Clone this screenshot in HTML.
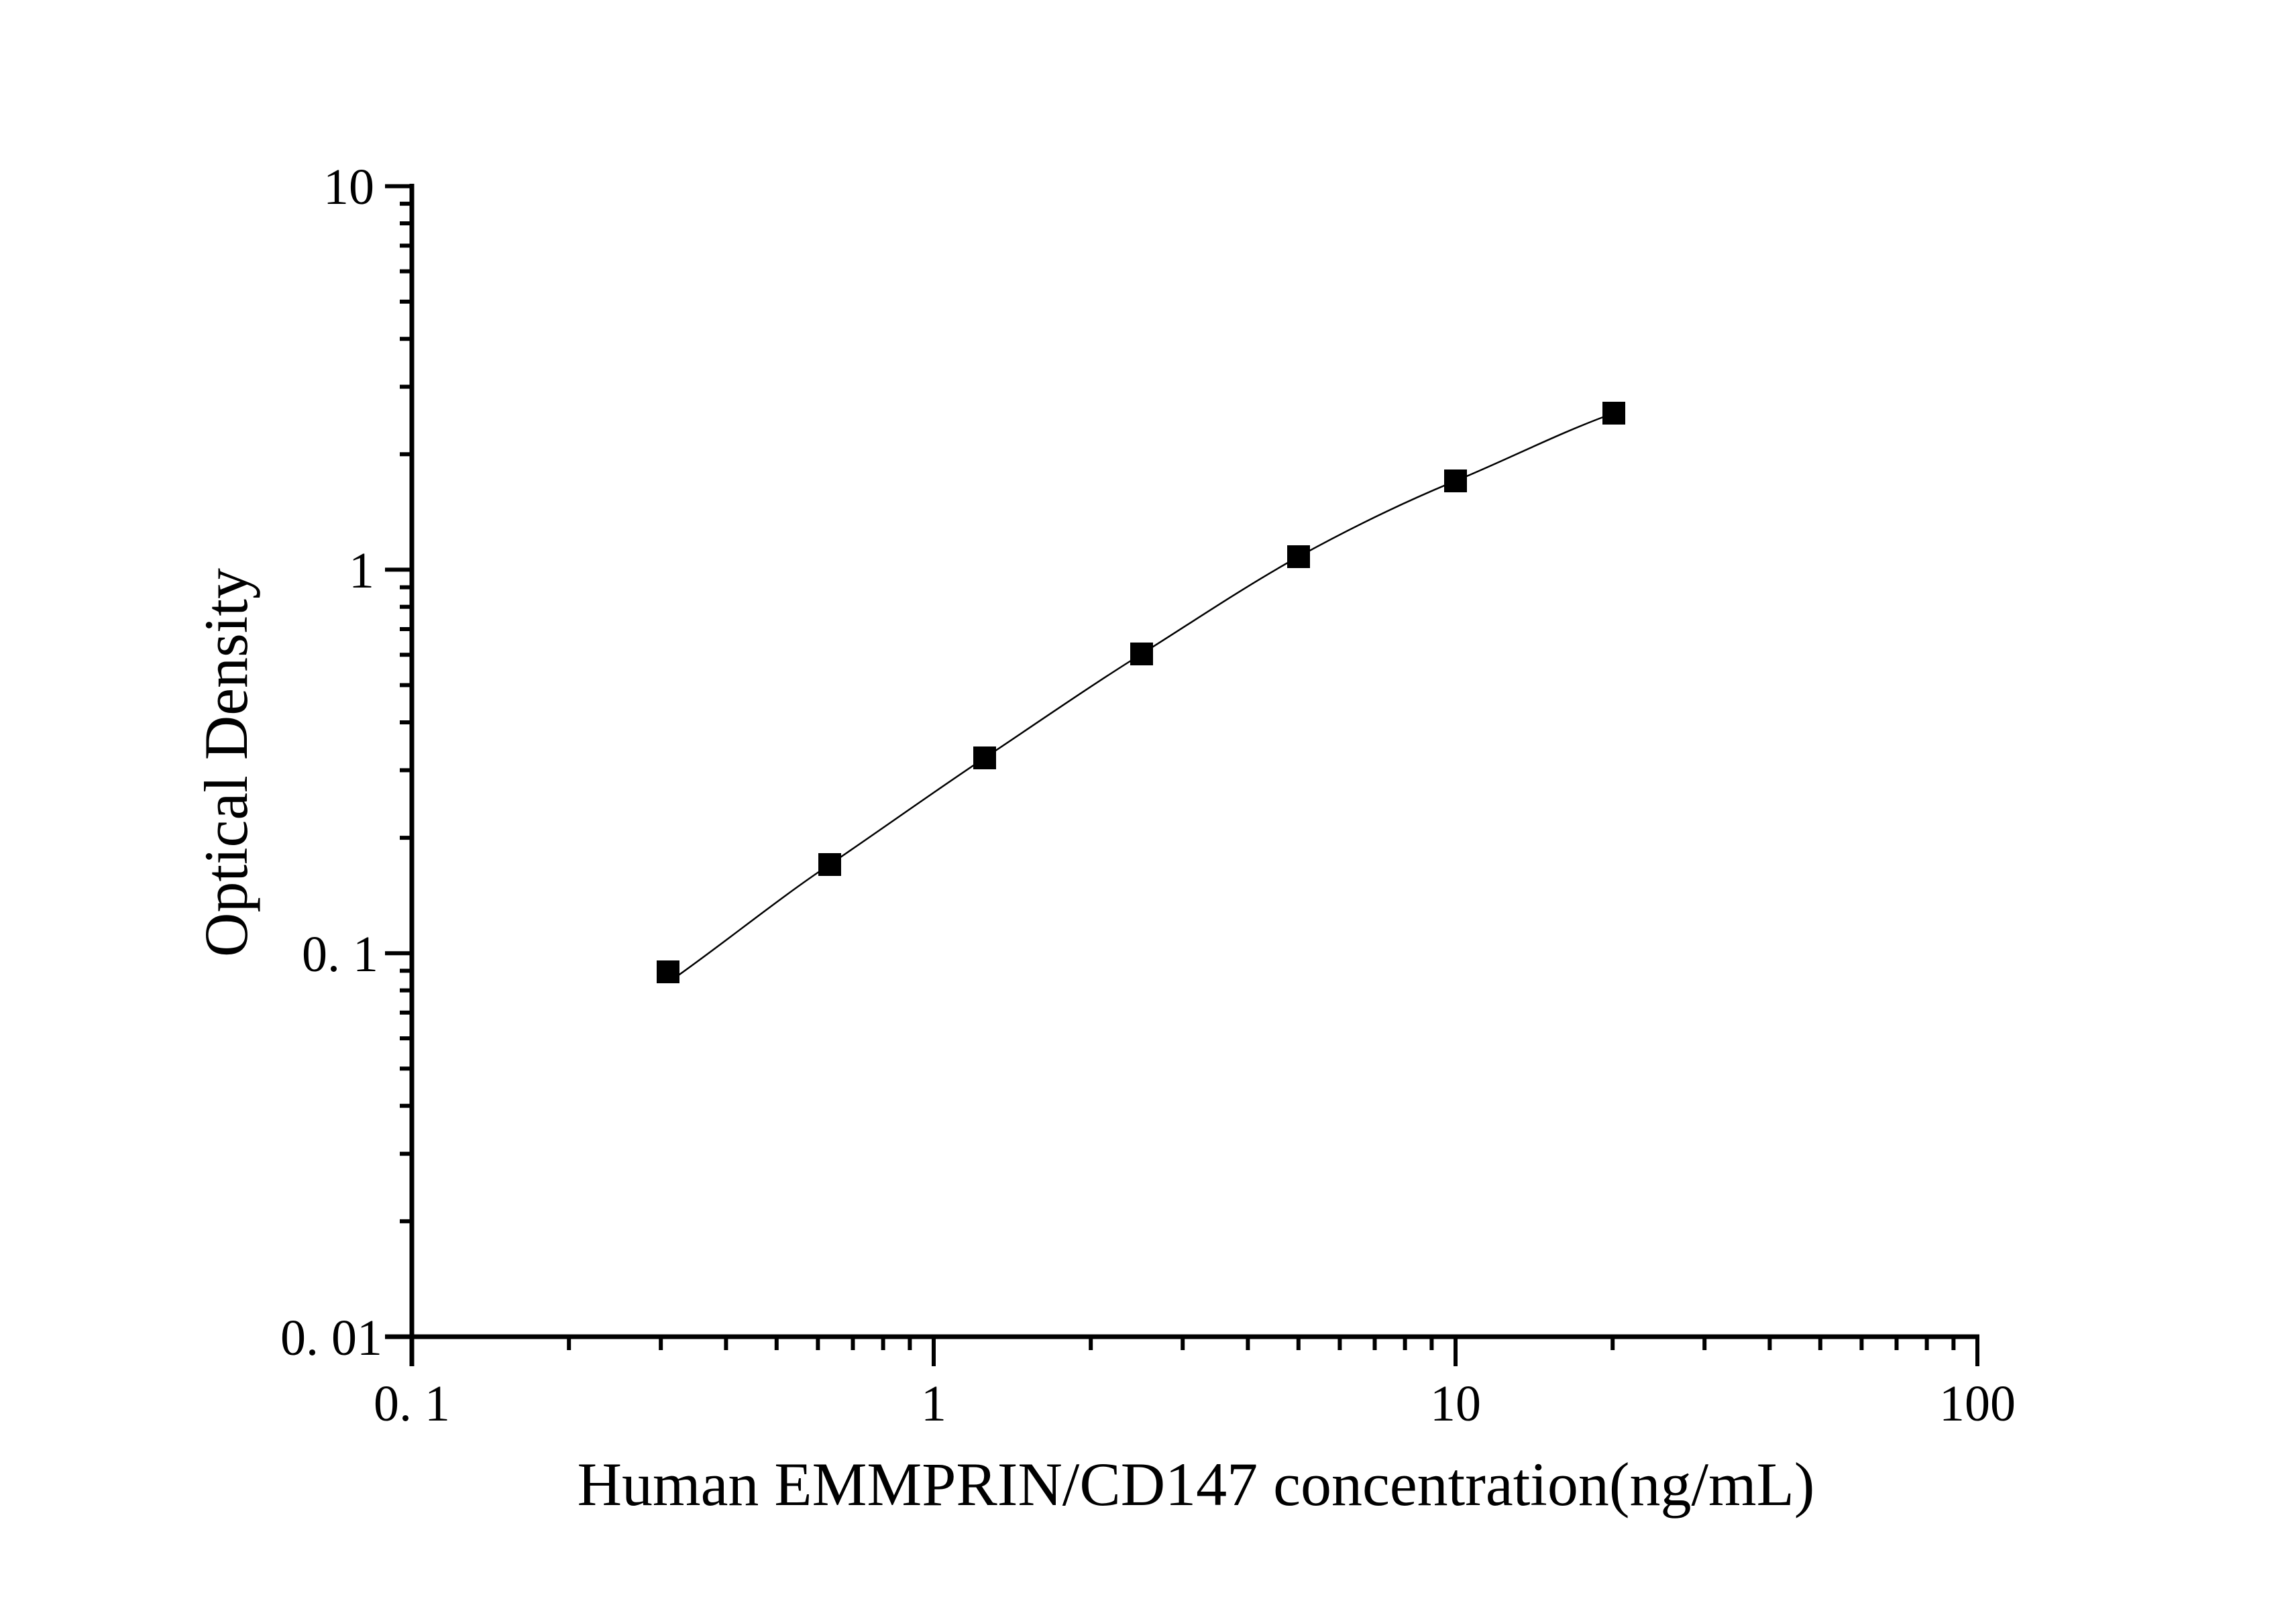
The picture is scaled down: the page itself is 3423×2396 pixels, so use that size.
<!DOCTYPE html>
<html><head><meta charset="utf-8"><style>html,body{margin:0;padding:0;background:#fff}</style></head>
<body>
<svg width="3423" height="2391" viewBox="0 0 3423 2391" xmlns="http://www.w3.org/2000/svg">
<rect width="3423" height="2391" fill="#fff"/>
<g stroke="#000" stroke-width="6">
<!-- x ticks: X0=614, DX=778 -->
<line x1="614" y1="1993" x2="614" y2="2037"/>
<line x1="848.2" y1="1993" x2="848.2" y2="2013"/>
<line x1="985.2" y1="1993" x2="985.2" y2="2013"/>
<line x1="1082.4" y1="1993" x2="1082.4" y2="2013"/>
<line x1="1157.8" y1="1993" x2="1157.8" y2="2013"/>
<line x1="1219.4" y1="1993" x2="1219.4" y2="2013"/>
<line x1="1271.5" y1="1993" x2="1271.5" y2="2013"/>
<line x1="1316.6" y1="1993" x2="1316.6" y2="2013"/>
<line x1="1356.4" y1="1993" x2="1356.4" y2="2013"/>
<line x1="1392" y1="1993" x2="1392" y2="2037"/>
<line x1="1626.2" y1="1993" x2="1626.2" y2="2013"/>
<line x1="1763.2" y1="1993" x2="1763.2" y2="2013"/>
<line x1="1860.4" y1="1993" x2="1860.4" y2="2013"/>
<line x1="1935.8" y1="1993" x2="1935.8" y2="2013"/>
<line x1="1997.4" y1="1993" x2="1997.4" y2="2013"/>
<line x1="2049.5" y1="1993" x2="2049.5" y2="2013"/>
<line x1="2094.6" y1="1993" x2="2094.6" y2="2013"/>
<line x1="2134.4" y1="1993" x2="2134.4" y2="2013"/>
<line x1="2170" y1="1993" x2="2170" y2="2037"/>
<line x1="2404.2" y1="1993" x2="2404.2" y2="2013"/>
<line x1="2541.2" y1="1993" x2="2541.2" y2="2013"/>
<line x1="2638.4" y1="1993" x2="2638.4" y2="2013"/>
<line x1="2713.8" y1="1993" x2="2713.8" y2="2013"/>
<line x1="2775.4" y1="1993" x2="2775.4" y2="2013"/>
<line x1="2827.5" y1="1993" x2="2827.5" y2="2013"/>
<line x1="2872.6" y1="1993" x2="2872.6" y2="2013"/>
<line x1="2912.4" y1="1993" x2="2912.4" y2="2013"/>
<line x1="2948" y1="1990" x2="2948" y2="2037"/>
<!-- y ticks: Y0=1993, DY=571.8 -->
<line x1="614" y1="1993" x2="574" y2="1993"/>
<line x1="614" y1="1820.9" x2="596" y2="1820.9"/>
<line x1="614" y1="1720.2" x2="596" y2="1720.2"/>
<line x1="614" y1="1648.8" x2="596" y2="1648.8"/>
<line x1="614" y1="1593.3" x2="596" y2="1593.3"/>
<line x1="614" y1="1548.1" x2="596" y2="1548.1"/>
<line x1="614" y1="1509.8" x2="596" y2="1509.8"/>
<line x1="614" y1="1476.6" x2="596" y2="1476.6"/>
<line x1="614" y1="1447.4" x2="596" y2="1447.4"/>
<line x1="614" y1="1421.2" x2="574" y2="1421.2"/>
<line x1="614" y1="1249.1" x2="596" y2="1249.1"/>
<line x1="614" y1="1148.4" x2="596" y2="1148.4"/>
<line x1="614" y1="1077" x2="596" y2="1077"/>
<line x1="614" y1="1021.5" x2="596" y2="1021.5"/>
<line x1="614" y1="976.3" x2="596" y2="976.3"/>
<line x1="614" y1="938" x2="596" y2="938"/>
<line x1="614" y1="904.8" x2="596" y2="904.8"/>
<line x1="614" y1="875.6" x2="596" y2="875.6"/>
<line x1="614" y1="849.4" x2="574" y2="849.4"/>
<line x1="614" y1="677.3" x2="596" y2="677.3"/>
<line x1="614" y1="576.6" x2="596" y2="576.6"/>
<line x1="614" y1="505.2" x2="596" y2="505.2"/>
<line x1="614" y1="449.7" x2="596" y2="449.7"/>
<line x1="614" y1="404.5" x2="596" y2="404.5"/>
<line x1="614" y1="366.2" x2="596" y2="366.2"/>
<line x1="614" y1="333" x2="596" y2="333"/>
<line x1="614" y1="303.8" x2="596" y2="303.8"/>
<line x1="617" y1="277.6" x2="574" y2="277.6"/>
</g>
<line x1="614" y1="274" x2="614" y2="2037" stroke="#000" stroke-width="7"/>
<line x1="574" y1="1993" x2="2951" y2="1993" stroke="#000" stroke-width="7"/>
<path d="M996,1465 C1075,1410 1160,1340 1237,1289 C1315,1236 1390,1182 1468,1130 C1546,1078 1622,1025 1702,975 C1780,926 1858,873 1936,830 C2014,787 2090,750 2170,717 C2248,685 2325,645 2406,616" fill="none" stroke="#000" stroke-width="2.5"/>
<g fill="#000">
<rect x="979" y="1432" width="34" height="34"/>
<rect x="1220" y="1272" width="34" height="34"/>
<rect x="1451" y="1113" width="34" height="34"/>
<rect x="1685" y="958" width="34" height="34"/>
<rect x="1919" y="813" width="34" height="34"/>
<rect x="2153" y="700" width="34" height="34"/>
<rect x="2389" y="599" width="34" height="34"/>
</g>
<g font-family="Liberation Serif, serif" font-size="76" fill="#000">
<text x="558" y="304" text-anchor="end">10</text>
<text x="558" y="876" text-anchor="end">1</text>
<text x="564" y="1448" text-anchor="end">0. 1</text>
<text x="570" y="2020" text-anchor="end">0. 01</text>
<text x="614" y="2118" text-anchor="middle">0. 1</text>
<text x="1392" y="2118" text-anchor="middle">1</text>
<text x="2170" y="2118" text-anchor="middle">10</text>
<text x="2948" y="2118" text-anchor="middle">100</text>
</g>
<text x="1783" y="2244" text-anchor="middle" font-family="Liberation Serif, serif" font-size="92">Human EMMPRIN/CD147 concentration(ng/mL)</text>
<text transform="translate(368,1137) rotate(-90)" text-anchor="middle" font-family="Liberation Serif, serif" font-size="92">Optical Density</text>
</svg>
</body></html>
